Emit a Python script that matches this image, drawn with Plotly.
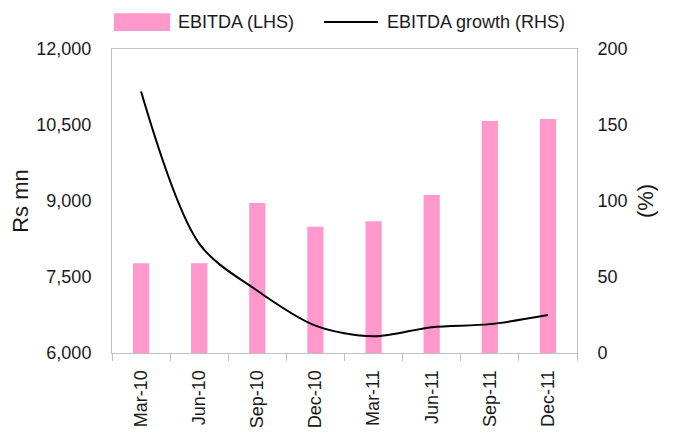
import plotly.graph_objects as go

categories = ["Mar-10", "Jun-10", "Sep-10", "Dec-10", "Mar-11", "Jun-11", "Sep-11", "Dec-11"]
ebitda = [7770, 7770, 8960, 8490, 8600, 9120, 10580, 10620]
growth = [172, 72, 41, 18, 11, 17, 19, 25]
left_ticks = [6000, 7500, 9000, 10500, 12000]
right_ticks = [0, 50, 100, 150, 200]
series_names = ["EBITDA (LHS)", "EBITDA growth (RHS)"]

FONT = "Liberation Sans, Arial, sans-serif"
PINK = "#FF99CC"
GRAY = "#c0c0c0"

fig = go.Figure()
fig.add_trace(go.Bar(
    x=categories, y=ebitda, name=series_names[0],
    marker=dict(color=PINK, line=dict(width=0)), showlegend=False,
))
fig.add_trace(go.Scatter(
    x=categories, y=growth, name=series_names[1], yaxis="y2", showlegend=False,
    mode="lines", line=dict(color="black", width=2, shape="spline", smoothing=0.9),
))

# manual legend (paper coordinates)
fig.add_shape(type="rect", xref="paper", yref="paper", x0=0.004, x1=0.125, y0=1.059, y1=1.118,
              fillcolor=PINK, line=dict(width=0))
fig.add_annotation(xref="paper", yref="paper", x=0.1376, y=1.089, xanchor="left", yanchor="middle",
                   text=series_names[0], showarrow=False, font=dict(size=18))
fig.add_shape(type="line", xref="paper", yref="paper", x0=0.456, x1=0.572, y0=1.089, y1=1.089,
              line=dict(color="black", width=2))
fig.add_annotation(xref="paper", yref="paper", x=0.587, y=1.089, xanchor="left", yanchor="middle",
                   text=series_names[1], showarrow=False, font=dict(size=18))

fig.update_layout(
    width=671, height=427,
    margin=dict(l=104, r=102, t=41, b=82),
    paper_bgcolor="white", plot_bgcolor="white",
    font=dict(family=FONT, size=18, color="#1a1a1a"),
    bargap=0.72,
    showlegend=False,
    xaxis=dict(
        type="category", tickangle=-90, showline=True, linecolor=GRAY, linewidth=1,
        ticks="outside", tickson="boundaries", ticklen=7, tickcolor=GRAY,
        mirror=True, showgrid=False, zeroline=False, automargin=False,
        ticklabelstandoff=9,
    ),
    yaxis=dict(
        range=[6000, 12000], tickvals=left_ticks, tickformat=",",
        showline=True, linecolor=GRAY, linewidth=1, showgrid=False, zeroline=False,
        ticks="", ticklabelstandoff=16, automargin=False,
        title=dict(text="Rs mn", standoff=4),
    ),
    yaxis2=dict(
        range=[0, 200], tickvals=right_ticks, overlaying="y", side="right",
        showline=True, linecolor=GRAY, linewidth=1, showgrid=False, zeroline=False,
        ticks="", ticklabelstandoff=16, automargin=False,
        title=dict(text="(%)", standoff=10),
    ),
)

fig.write_html("out.html")
